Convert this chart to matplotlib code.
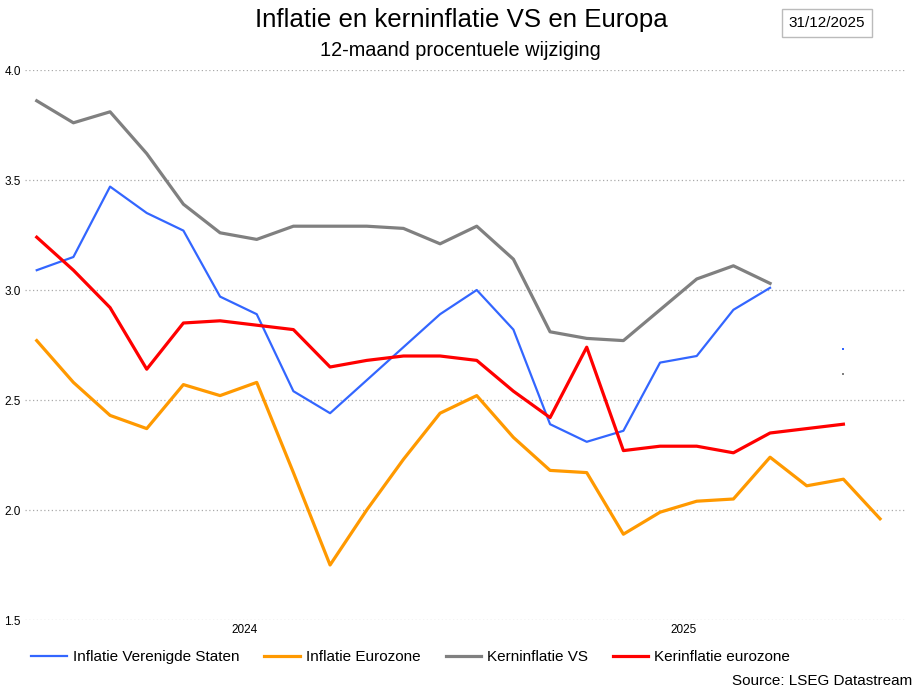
import numpy as np
import matplotlib
matplotlib.use("Agg")
import matplotlib.pyplot as plt

plt.rcParams['font.family'] = ['Liberation Sans', 'DejaVu Sans']

nan = np.nan
# maandelijkse waarden jan 2024 - dec 2025
inflatie_vs = [3.09, 3.15, 3.47, 3.35, 3.27, 2.97, 2.89, 2.54, 2.44, 2.59, 2.74, 2.89,
               3.00, 2.82, 2.39, 2.31, 2.36, 2.67, 2.70, 2.91, 3.01, nan, 2.73, nan]
inflatie_ez = [2.77, 2.58, 2.43, 2.37, 2.57, 2.52, 2.58, 2.17, 1.75, 2.00, 2.23, 2.44,
               2.52, 2.33, 2.18, 2.17, 1.89, 1.99, 2.04, 2.05, 2.24, 2.11, 2.14, 1.96]
kern_vs = [3.86, 3.76, 3.81, 3.62, 3.39, 3.26, 3.23, 3.29, 3.29, 3.29, 3.28, 3.21,
           3.29, 3.14, 2.81, 2.78, 2.77, 2.91, 3.05, 3.11, 3.03, nan, 2.62, nan]
kern_ez = [3.24, 3.09, 2.92, 2.64, 2.85, 2.86, 2.84, 2.82, 2.65, 2.68, 2.70, 2.70,
           2.68, 2.54, 2.42, 2.74, 2.27, 2.29, 2.29, 2.26, 2.35, 2.37, 2.39, nan]
jaar_labels = ['2024', '2025']
jaar_pos = [5.67, 17.63]

x = np.arange(len(inflatie_ez))

fig = plt.figure(figsize=(9.18, 6.88), dpi=100)
ax = fig.add_axes([25/918, 1 - 620/688, 880/918, 550/688])

ax.plot(x, inflatie_vs, color='#3366ff', lw=1.6, label='Inflatie Verenigde Staten')
ax.plot(x, inflatie_ez, color='#ff9900', lw=2.3, label='Inflatie Eurozone')
ax.plot(x, kern_vs, color='#808080', lw=2.3, label='Kerninflatie VS')
ax.plot(x, kern_ez, color='#ff0000', lw=2.3, label='Kerinflatie eurozone')
# losse punten (nov 2025) zonder buren
ax.plot(x, inflatie_vs, ls='none', marker='s', ms=1.5, mew=0, color='#3366ff', markevery=[22])
ax.plot(x, kern_vs, ls='none', marker='s', ms=1.5, mew=0, color='#808080', markevery=[22])

ax.set_ylim(1.5, 4.0)
ax.set_xlim(-0.32, 23.68)
ax.set_yticks([1.5, 2.0, 2.5, 3.0, 3.5, 4.0])
ax.set_yticklabels(['1.5', '2.0', '2.5', '3.0', '3.5', '4.0'], fontsize=8.5)
ax.set_xticks(jaar_pos)
ax.set_xticklabels(jaar_labels, fontsize=8.5)
ax.tick_params(length=0, pad=3)
ax.grid(axis='y', color='#aaaaaa', ls=(0, (1, 2)), lw=0.9)
for s in ax.spines.values():
    s.set_visible(False)

fig.text(461/918, 1 - 20/688, 'Inflatie en kerninflatie VS en Europa', ha='center', va='center', fontsize=18.6)
fig.text(460/918, 1 - 50/688, '12-maand procentuele wijziging', ha='center', va='center', fontsize=14.3)
fig.text(827/918, 1 - 23/688, '31/12/2025', ha='center', va='center', fontsize=11,
         bbox=dict(boxstyle='square,pad=0.45', fc='white', ec='#bbbbbb', lw=1))

fig.legend(loc='center', bbox_to_anchor=(0.4475, 1 - 657/688), ncol=4, frameon=False,
           fontsize=11, handlelength=2.3, handletextpad=0.4, columnspacing=1.65)
fig.text(912/918, 1 - 681/688, 'Source: LSEG Datastream', ha='right', va='center', fontsize=11)

fig.savefig('out.png', dpi=100)
